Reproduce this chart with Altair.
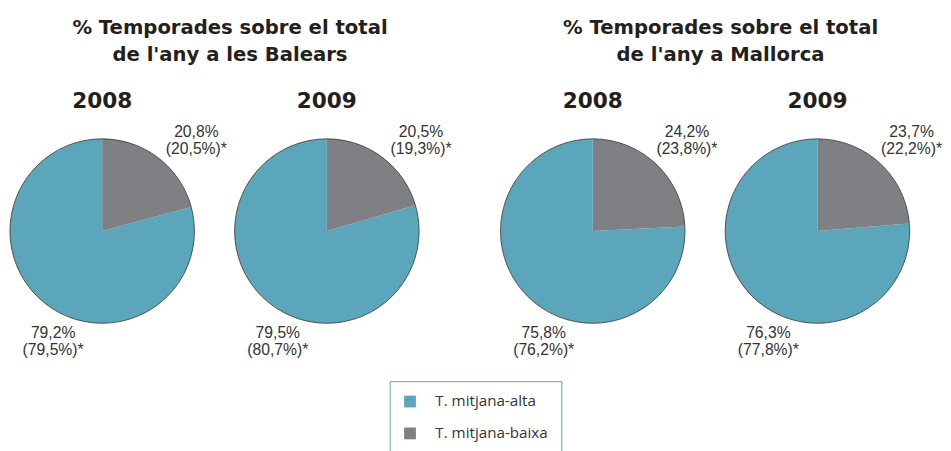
import altair as alt
import pandas as pd

# ---- data ----
regions = ["Balears", "Balears", "Mallorca", "Mallorca"]
years = ["2008", "2009", "2008", "2009"]
alta = [79.2, 79.5, 75.8, 76.3]          # T. mitjana-alta (%)
baixa = [20.8, 20.5, 24.2, 23.7]         # T. mitjana-baixa (%)
alta_ref = [79.5, 80.7, 76.2, 77.8]      # value in brackets (*)
baixa_ref = [20.5, 19.3, 23.8, 22.2]     # value in brackets (*)
categories = ["T. mitjana-alta", "T. mitjana-baixa"]
colors = ["#5ba6bb", "#7f8083"]
group_titles = [
    ["% Temporades sobre el total", "de l'any a les Balears"],
    ["% Temporades sobre el total", "de l'any a Mallorca"],
]

TITLE_FONT = "DejaVu Sans"
LABEL_FONT = "Liberation Sans"
LEGEND_FONT = "Open Sans"
TEXT_COLOR = "#231f20"


def fmt(v):
    return f"{v:.1f}".replace(".", ",") + "%"


def legend():
    return alt.Legend(
        title=None,
        orient="none",
        legendX=387,
        legendY=247,
        symbolType="square",
        symbolSize=144,
        symbolStrokeWidth=0,
        labelFont=LEGEND_FONT,
        labelFontSize=15.5,
        labelColor="#333333",
        labelOffset=18,
        padding=13,
        rowPadding=15.5,
        strokeColor="#5ba6bb",
    )


def pie(i):
    df = pd.DataFrame({
        "cat": categories,
        "value": [alta[i], baixa[i]],
        "order": [1, 0],
        "label": [
            fmt(alta[i]) + "\n(" + fmt(alta_ref[i]) + ")*",
            fmt(baixa[i]) + "\n(" + fmt(baixa_ref[i]) + ")*",
        ],
    })
    base = alt.Chart(df)
    color = alt.Color("cat:N", scale=alt.Scale(domain=categories, range=colors), legend=legend())
    arcs = base.mark_arc().encode(
        theta=alt.Theta("value:Q", stack=True),
        color=color,
        order=alt.Order("order:Q"),
    )
    outline = base.mark_arc(fillOpacity=0, stroke="#333333", strokeWidth=0.8).encode(
        theta=alt.Theta("sum(value):Q")
    )
    text_style = dict(align="center", baseline="alphabetic", lineBreak="\n",
                      font=LABEL_FONT, fontSize=16, lineHeight=17, color="#333333")
    lab_baixa = base.transform_filter(alt.datum.cat == categories[1]).mark_text(
        dx=96, dy=-96, **text_style).encode(text="label:N")
    lab_alta = base.transform_filter(alt.datum.cat == categories[0]).mark_text(
        dx=-50, dy=109, **text_style).encode(text="label:N")
    return alt.layer(arcs, outline, lab_baixa, lab_alta).properties(
        width=188, height=188,
        title=alt.TitleParams(years[i], font=TITLE_FONT, fontSize=22, fontWeight="bold",
                              color=TEXT_COLOR, offset=-6, baseline="alphabetic", anchor="middle"),
    )


def group(g):
    return alt.hconcat(pie(2 * g), pie(2 * g + 1), spacing=41, bounds="flush").properties(
        title=alt.TitleParams(group_titles[g], font=TITLE_FONT, fontSize=20, fontWeight="bold",
                              color=TEXT_COLOR, lineHeight=28, anchor="middle", offset=26)
    )


chart = alt.hconcat(group(0), group(1), spacing=47).properties(
    padding={"left": 0, "top": 6, "right": 0, "bottom": 0}
).configure_view(strokeWidth=0)

chart.save("out.html", embed_options={"renderer": "svg", "actions": False})
